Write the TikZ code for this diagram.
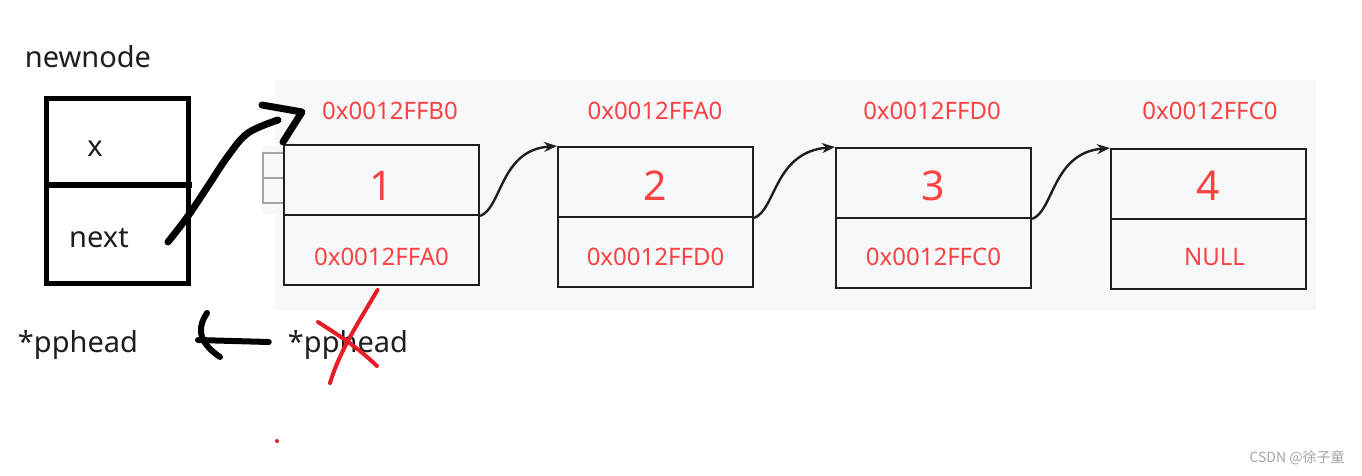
\documentclass[tikz,border=0pt]{standalone}
\usepackage{fontspec}
\setmainfont{Noto Sans}
\newfontfamily\cjk{Noto Sans CJK SC}
\usepackage{tikz}
\usetikzlibrary{arrows.meta, positioning, calc}
\definecolor{addrred}{RGB}{250, 66, 66}
\definecolor{inkred}{RGB}{232, 28, 38}
\definecolor{panelgray}{RGB}{247, 248, 250}
\definecolor{boxline}{RGB}{30, 30, 30}
\definecolor{markgray}{RGB}{165, 165, 165}
\tikzset{
  cell/.style={rectangle, draw=boxline, line width=2pt, minimum width=195pt,
               minimum height=70pt, inner sep=0pt},
  addr/.style={text=addrred, inner sep=0pt, font=\fontsize{24}{28}\selectfont},
  val/.style={text=addrred, inner sep=0pt, font=\fontsize{41}{46}\selectfont},
  nbox/.style={rectangle, draw=black, line width=5pt, minimum width=142pt, inner sep=0pt},
  word/.style={text=boxline, inner sep=0pt, font=\fontsize{29}{34}\selectfont},
  link/.style={-{Stealth[length=13pt, width=10pt]}, line width=2.4pt, color=boxline},
  pen/.style={line width=7pt, line cap=round, line join=round, color=black},
  redpen/.style={line width=4pt, line cap=round, line join=round, color=inkred},
}

\begin{document}
\begin{tikzpicture}[x=1pt, y=-1pt]
  \useasboundingbox[fill=white] (0,0) rectangle (1362,475);
  % grey panel behind the list
  \fill[panelgray] (275,80) rectangle (1316,310);
  \fill[panelgray] (262,146) rectangle (284,214);
  \draw[markgray, line width=1.2pt] (283,153) -- (263,153) -- (263,203) -- (283,203);
  \draw[markgray, line width=1.2pt] (263,178) -- (283,178);

  % list nodes
  \node[cell] (c1t) at (381.5,180) {};
  \node[cell] (c1b) at (381.5,250) {};
  \node[cell] (c2t) at (655.5,182) {};
  \node[cell] (c2b) at (655.5,252) {};
  \node[cell] (c3t) at (933.5,183) {};
  \node[cell] (c3b) at (933.5,253) {};
  \node[cell] (c4t) at (1208.5,184) {};
  \node[cell] (c4b) at (1208.5,254) {};

  \node[val] (v1) at ($(c1t.center)+(0,6)$) {1};
  \node[val] (v2) at ($(c2t.center)+(0,4)$) {2};
  \node[val] (v3) at ($(c3t.center)+(0,3)$) {3};
  \node[val] (v4) at ($(c4t.center)+(0,2)$) {4};

  \node[addr] (n1) at ($(c1b.center)+(0,7)$) {0x0012FFA0};
  \node[addr] (n2) at ($(c2b.center)+(0,5)$) {0x0012FFD0};
  \node[addr] (n3) at ($(c3b.center)+(0,4)$) {0x0012FFC0};
  \node[addr] (n4) at ($(c4b.center)+(6,3)$) {NULL};

  \node[addr] (a1) at (390,111) {0x0012FFB0};
  \node[addr] (a2) at (655,111) {0x0012FFA0};
  \node[addr] (a3) at (932,111) {0x0012FFD0};
  \node[addr] (a4) at (1210,111) {0x0012FFC0};

  \draw[link] (c1t.south east) .. controls (502,208) and (500,150) .. (c2t.north west);
  \draw[link] (c2t.south east) .. controls (776,210) and (774,152) .. (c3t.north west);
  \draw[link] (c3t.south east) .. controls (1054,211) and (1052,153) .. (c4t.north west);

  % the new node
  \node[word] (nnlabel) at (88,57) {newnode};
  \node[nbox, minimum height=87pt] (nnx) at (117,141.5) {};
  \node[nbox, minimum height=98pt] (nnn) at (117,234) {};
  \draw[line width=6pt] (46,185) -- (192,185);
  \node[word] (nx) at (95,149) {x};
  \node[word] (nn) at (99,238) {next};

  \node[word] (pp) at (78,345) {*pphead};
  \node[word] (ppold) at (348,345) {*pphead};

  % hand drawn pointer from next to the first node
  \coordinate (nxtstart) at (168,242);
  \coordinate (nxtend) at (278,120);
  \draw[pen] plot[smooth, tension=0.6] coordinates
    {(nxtstart) (188,216) (208,186) (228,156) (248,133) (nxtend)};
  \draw[pen] (262,105) -- (302,112) -- (283,142);

  % hand drawn arrow between the two pphead
  \draw[pen, line width=6pt] (ppold.west) ++(-19,-3) -- (198,340);
  \draw[pen, line width=6pt] (207,313) .. controls (199,325) and (195,340) .. (220,357);

  % crossed out
  \draw[redpen] (c1b.south) ++(-4,4) .. controls (360,320) and (340,350) .. (330,383);
  \draw[redpen] (318,322) .. controls (338,335) and (355,345) .. (377,366);
  \fill[inkred] (277,441) circle (2pt);

  \node[text=markgray, inner sep=0pt, font=\cjk\fontsize{14}{16}\selectfont] (mark) at (1297,458) {CSDN @徐子童};
\end{tikzpicture}
\end{document}
